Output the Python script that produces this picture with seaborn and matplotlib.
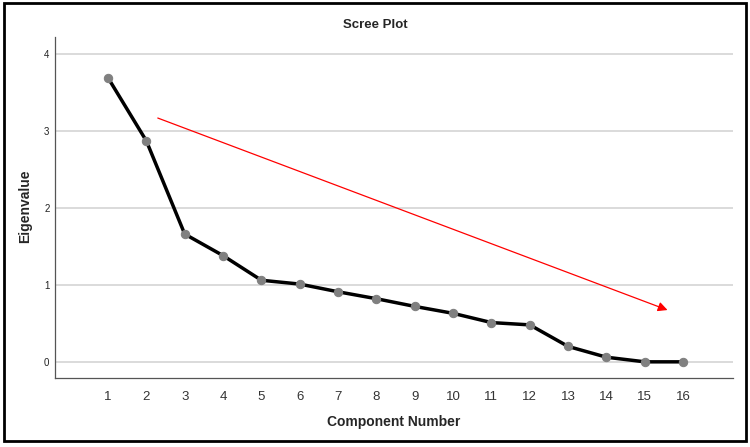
import matplotlib
matplotlib.use("Agg")
import matplotlib.pyplot as plt
import seaborn as sns
import pandas as pd
from matplotlib.patches import Rectangle

components = list(range(1, 17))
eigenvalues = [3.69, 2.87, 1.66, 1.38, 1.06, 1.01, 0.91, 0.82, 0.72, 0.63, 0.51, 0.48, 0.20, 0.06, 0.00, 0.00]
y_ticks = [0, 1, 2, 3, 4]

df = pd.DataFrame({"Component Number": components, "Eigenvalue": eigenvalues})

sns.set_theme(style="white")
plt.rcParams['font.family'] = ['Liberation Sans', 'DejaVu Sans']

fig = plt.figure(figsize=(7.5, 4.47), dpi=100)
ax = fig.add_axes([55 / 750, 1 - 378 / 447, 678 / 750, 341 / 447])

for t in y_ticks:
    ax.axhline(t, color="#d4d4d4", lw=1.2, zorder=0)

sns.lineplot(data=df, x="Component Number", y="Eigenvalue", ax=ax,
             color="black", lw=2.5, marker="o", markersize=6,
             markerfacecolor="#808080", markeredgecolor="#808080", zorder=3)

ax.annotate("", xy=(15.66, 0.66), xytext=(2.23, 3.18),
            arrowprops=dict(arrowstyle="-|>", color="red", lw=0.9,
                            mutation_scale=14))

ax.set_xlim(-0.383, 17.3)
ax.set_ylim(-0.21, 4.22)
ax.set_xticks(components)
ax.set_yticks(y_ticks)
ax.tick_params(axis="x", labelsize=9.5, length=0, pad=9, colors="#333333")
ax.tick_params(axis="y", labelsize=7, length=0, pad=4, colors="#222222")
ax.set_xlabel("Component Number", fontsize=10, fontweight="bold")
ax.set_ylabel("Eigenvalue", fontsize=10, fontweight="bold")
ax.xaxis.set_label_coords(0.5, -0.129)
ax.yaxis.set_label_coords(-0.044, 0.504)
ax.xaxis.label.set_va("center")
ax.yaxis.label.set_va("center")
fig.text(0.5, 1 - 25 / 447, "Scree Plot", ha="center", va="center",
         fontsize=9.5, fontweight="bold")

for s in ["top", "right"]:
    ax.spines[s].set_visible(False)
for s in ["left", "bottom"]:
    ax.spines[s].set_color("#555555")
    ax.spines[s].set_linewidth(0.9)

fig.patches.append(Rectangle((0.005, 0.013), 0.99, 0.98, transform=fig.transFigure,
                             fill=False, edgecolor="black", lw=2))

fig.savefig("out.png", dpi=100)
